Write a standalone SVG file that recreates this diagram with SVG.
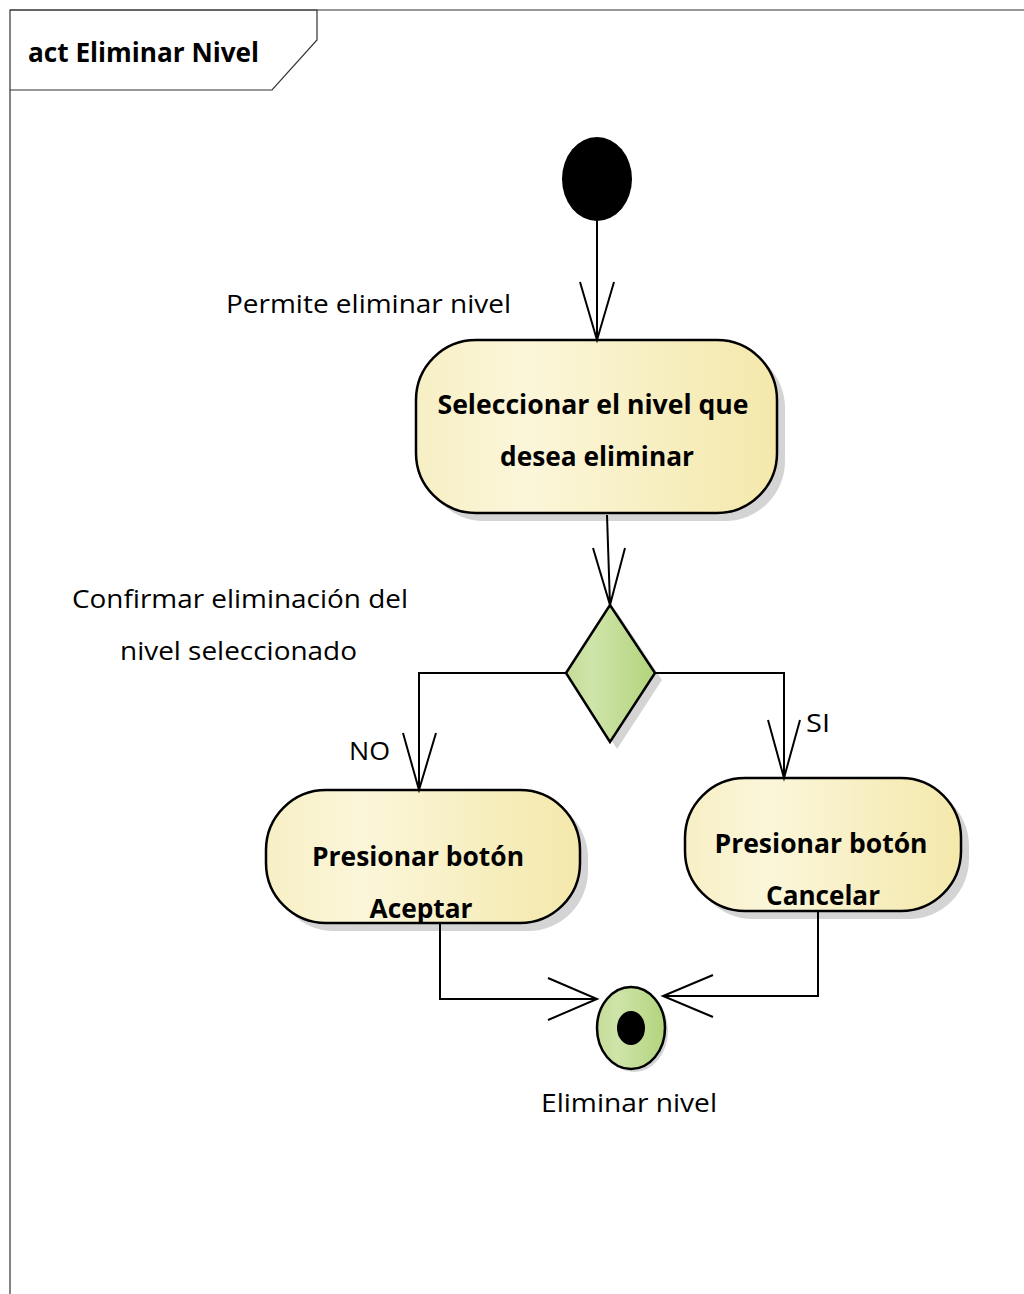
<svg xmlns="http://www.w3.org/2000/svg" width="1024" height="1294" viewBox="0 0 1024 1294">
<defs>
<linearGradient id="yel" x1="0" y1="0" x2="1" y2="0">
<stop offset="0" stop-color="#f7efc4"/>
<stop offset="0.3" stop-color="#fbf6da"/>
<stop offset="1" stop-color="#f4e8ab"/>
</linearGradient>
<linearGradient id="grn" x1="0" y1="0" x2="1" y2="0">
<stop offset="0" stop-color="#c4dc98"/>
<stop offset="0.3" stop-color="#cfe4a9"/>
<stop offset="1" stop-color="#b2d47c"/>
</linearGradient>
<style>
.frame{fill:none;stroke:#333;stroke-width:1.2}
.act{fill:url(#yel);stroke:#000;stroke-width:2.5}
.shd{fill:#d4d4d4}
.ln{fill:none;stroke:#000;stroke-width:2}
.t{font-family:"Open Sans","Liberation Sans",sans-serif;font-size:26px;fill:#000}
.b{font-weight:bold}
</style>
</defs>
<rect width="1024" height="1294" fill="#fff"/>
<g id="frame">
<path class="frame" d="M10,1294 V10 H1024"/>
<path class="frame" d="M10,10 H317 V40 L272,90 H10"/>
<text class="t b" x="28" y="62" textLength="231" lengthAdjust="spacingAndGlyphs">act Eliminar Nivel</text>
</g>
<g id="start">
<ellipse cx="597" cy="179" rx="35" ry="42" fill="#000"/>
</g>
<g id="a1">
<rect class="shd" x="424" y="348" width="361" height="173" rx="60"/>
<rect class="act" x="416" y="340" width="361" height="173" rx="60"/>
<text class="t b" x="593" y="414" text-anchor="middle" textLength="311" lengthAdjust="spacingAndGlyphs">Seleccionar el nivel que</text>
<text class="t b" x="597" y="466" text-anchor="middle" textLength="194" lengthAdjust="spacingAndGlyphs">desea eliminar</text>
</g>
<g id="decision">
<polygon points="617,612 662,680 617,749 573,680" fill="#d4d4d4"/>
<polygon points="610,605 655,673 610,742 566,673" fill="url(#grn)" stroke="#000" stroke-width="2.5"/>
</g>
<g id="a2">
<rect class="shd" x="274" y="798" width="314" height="133" rx="60"/>
<rect class="act" x="266" y="790" width="314" height="133" rx="60"/>
<text class="t b" x="418" y="866" text-anchor="middle" textLength="212" lengthAdjust="spacingAndGlyphs">Presionar botón</text>
<text class="t b" x="421" y="918" text-anchor="middle" textLength="103" lengthAdjust="spacingAndGlyphs">Aceptar</text>
</g>
<g id="a3">
<rect class="shd" x="693" y="786" width="276" height="133" rx="60"/>
<rect class="act" x="685" y="778" width="276" height="133" rx="60"/>
<text class="t b" x="821" y="853" text-anchor="middle" textLength="213" lengthAdjust="spacingAndGlyphs">Presionar botón</text>
<text class="t b" x="823" y="905" text-anchor="middle" textLength="114" lengthAdjust="spacingAndGlyphs">Cancelar</text>
</g>
<g id="final">
<ellipse cx="634" cy="1031" rx="34" ry="41" fill="#d4d4d4"/>
<ellipse cx="631" cy="1028" rx="34" ry="41" fill="url(#grn)" stroke="#000" stroke-width="2.5"/>
<ellipse cx="631" cy="1028" rx="14" ry="17" fill="#000"/>
</g>
<g id="connectors">
<path class="ln" d="M597,221 V340 M580,282 L597,340 L614,282"/>
<path class="ln" d="M607,515 L610,605 M593,548 L610,605 L625,548"/>
<path class="ln" d="M566,673 H419 V790 M403,733 L419,790 L436,733"/>
<path class="ln" d="M655,673 H784 V778 M768,720 L784,778 L800,720"/>
<path class="ln" d="M440,923 V999 H597 M548,978 L597,999 L548,1020"/>
<path class="ln" d="M818,911 V996 H663 M713,975 L663,996 L713,1017"/>
</g>
<g id="labels">
<text class="t" x="226" y="313" textLength="285" lengthAdjust="spacingAndGlyphs">Permite eliminar nivel</text>
<text class="t" x="72" y="608" textLength="336" lengthAdjust="spacingAndGlyphs">Confirmar eliminación del</text>
<text class="t" x="120" y="660" textLength="237" lengthAdjust="spacingAndGlyphs">nivel seleccionado</text>
<text class="t" x="349" y="760" textLength="41" lengthAdjust="spacingAndGlyphs">NO</text>
<text class="t" x="806" y="732" textLength="24" lengthAdjust="spacingAndGlyphs">SI</text>
<text class="t" x="541" y="1112" textLength="176" lengthAdjust="spacingAndGlyphs">Eliminar nivel</text>
</g>
</svg>
